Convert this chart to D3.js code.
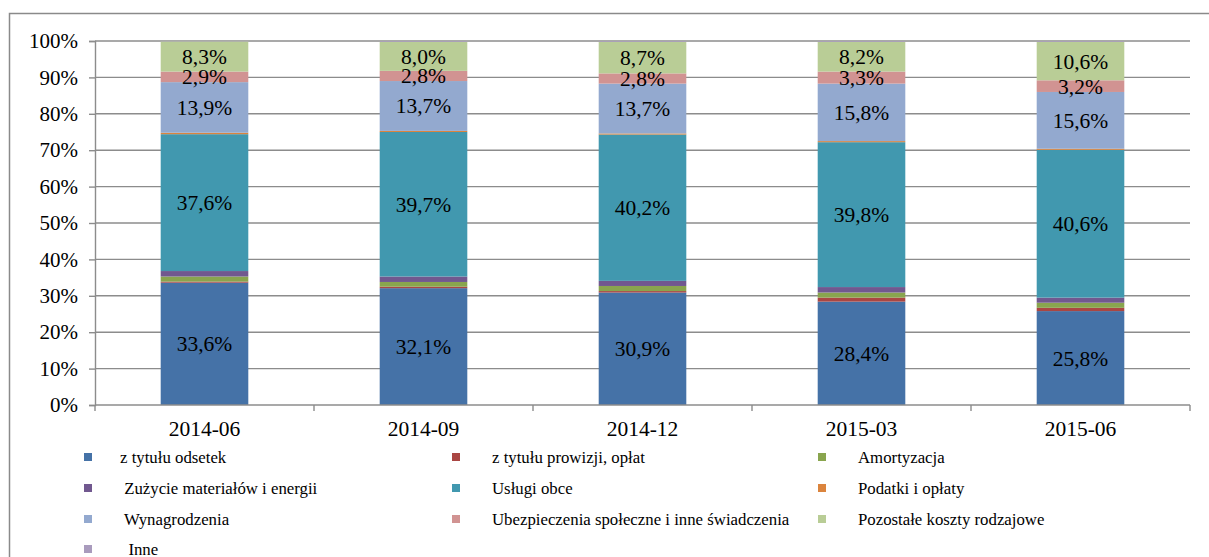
<!DOCTYPE html>
<html>
<head>
<meta charset="utf-8">
<script src="https://cdn.jsdelivr.net/npm/d3@7"></script>
<style>
  html, body { margin: 0; padding: 0; background: #fff; }
  svg { display: block; }
  svg text { font-family: "Liberation Serif", "Times New Roman", Tinos, "DejaVu Serif", serif; }
</style>
</head>
<body>
<script>
// Struktura kosztów (udział procentowy) w kolejnych okresach
const categories = ["2014-06", "2014-09", "2014-12", "2015-03", "2015-06"];

const seriesNames = [
  "z tytułu odsetek",
  "z tytułu prowizji, opłat",
  "Amortyzacja",
  " Zużycie materiałów i energii",
  "Usługi obce",
  "Podatki i opłaty",
  " Wynagrodzenia",
  "Ubezpieczenia społeczne i inne świadczenia",
  "Pozostałe koszty rodzajowe",
  "  Inne"
];

const odsetek      = [33.6, 32.1, 30.9, 28.4, 25.8];
const prowizje     = [0.3, 0.4, 0.4, 1.1, 0.9];
const amortyzacja  = [1.4, 1.3, 1.4, 1.4, 1.4];
const zuzycie      = [1.5, 1.5, 1.4, 1.5, 1.4];
const uslugiObce   = [37.6, 39.7, 40.2, 39.8, 40.6];
const podatki      = [0.4, 0.3, 0.3, 0.3, 0.3];
const wynagrodzenia= [13.9, 13.7, 13.7, 15.8, 15.6];
const ubezpieczenia= [2.9, 2.8, 2.8, 3.3, 3.2];
const pozostale    = [8.3, 8.0, 8.7, 8.2, 10.6];
const inne         = [0.1, 0.2, 0.2, 0.2, 0.2];

const seriesValues = [odsetek, prowizje, amortyzacja, zuzycie, uslugiObce,
                      podatki, wynagrodzenia, ubezpieczenia, pozostale, inne];

// series that carry a value label inside the bar
const labelled = [0, 4, 6, 7, 8];

const yTicks = [0, 10, 20, 30, 40, 50, 60, 70, 80, 90, 100];

const colors = ["#4572A7", "#AA4643", "#89A54E", "#71588F", "#4198AF",
                "#DB843D", "#93A9CF", "#D19392", "#B9CD96", "#A99BBD"];

const W = 1209, H = 557;
const plot = { left: 95, right: 1190, top: 41, bottom: 405 };

const svg = d3.select("body").append("svg")
  .attr("width", W).attr("height", H);

// chart frame
svg.append("rect")
  .attr("x", 9.5).attr("y", 13.5)
  .attr("width", W + 20).attr("height", H + 20)
  .attr("fill", "#fff").attr("stroke", "#8a8a8a").attr("stroke-width", 1.5);

const x = d3.scaleBand().domain(categories)
  .range([plot.left, plot.right]).paddingInner(0.6).paddingOuter(0.3);
const xOuter = d3.scaleBand().domain(categories).range([plot.left, plot.right]);
const y = d3.scaleLinear().domain([0, 100]).range([plot.bottom, plot.top]);

// horizontal gridlines
svg.append("g").selectAll("line").data(yTicks.filter(t => t > 0)).join("line")
  .attr("x1", plot.left).attr("x2", plot.right)
  .attr("y1", d => y(d)).attr("y2", d => y(d))
  .attr("stroke", "#8c8c8c").attr("stroke-width", 1.4);

// y axis
const yAxis = d3.axisLeft(y).tickValues(yTicks).tickSize(6).tickPadding(11)
  .tickFormat(d => d + "%");
const gy = svg.append("g").attr("transform", `translate(${plot.left},0)`).call(yAxis);
gy.attr("font-family", null);
gy.select(".domain").attr("stroke", "#8c8c8c").attr("stroke-width", 1.4);
gy.selectAll(".tick line").attr("stroke", "#8c8c8c").attr("stroke-width", 1.4);
gy.selectAll(".tick text").attr("font-size", 21).attr("fill", "#000");

// stacked data
const stackData = categories.map((c, i) => {
  const o = { cat: c };
  seriesNames.forEach((s, k) => { o[k] = seriesValues[k][i]; });
  return o;
});
const stack = d3.stack().keys(seriesNames.map((_, k) => k));
const layers = stack(stackData);

const gBars = svg.append("g");
layers.forEach((layer, k) => {
  gBars.append("g").attr("fill", colors[k])
    .selectAll("rect").data(layer).join("rect")
    .attr("x", d => x(d.data.cat))
    .attr("width", x.bandwidth())
    .attr("y", d => y(d[1]))
    .attr("height", d => Math.max(0, y(d[0]) - y(d[1])));
});

// x axis
const gx = svg.append("g").attr("transform", `translate(0,${plot.bottom})`);
gx.append("line").attr("x1", plot.left).attr("x2", plot.right)
  .attr("y1", 0).attr("y2", 0)
  .attr("stroke", "#8c8c8c").attr("stroke-width", 1.6);
const boundaries = categories.map(c => xOuter(c)).concat([plot.right]);
gx.selectAll("line.tk").data(boundaries).join("line").attr("class", "tk")
  .attr("x1", d => d).attr("x2", d => d).attr("y1", 0).attr("y2", 6)
  .attr("stroke", "#8c8c8c").attr("stroke-width", 1.4);
gx.selectAll("text").data(categories).join("text")
  .attr("x", d => xOuter(d) + xOuter.bandwidth() / 2)
  .attr("y", 31)
  .attr("text-anchor", "middle")
  .attr("font-size", 21.5).attr("fill", "#000")
  .text(d => d);

// value labels
const fmt = v => v.toFixed(1).replace(".", ",") + "%";
const gLab = svg.append("g");
labelled.forEach(k => {
  gLab.selectAll(null).data(layers[k]).join("text")
    .attr("x", d => x(d.data.cat) + x.bandwidth() / 2)
    .attr("y", d => (y(d[0]) + y(d[1])) / 2)
    .attr("dy", "0.35em")
    .attr("text-anchor", "middle")
    .attr("font-size", 21.5).attr("fill", "#000")
    .text(d => fmt(d[1] - d[0]));
});

// legend
const legCols = [84, 452, 818];
const legTextX = [120, 492, 858];
const legRows = [457, 488, 519, 549];
const gLeg = svg.append("g");
seriesNames.forEach((name, k) => {
  const col = k % 3, row = Math.floor(k / 3);
  gLeg.append("rect")
    .attr("x", legCols[col]).attr("y", legRows[row] - 4)
    .attr("width", 8).attr("height", 8)
    .attr("fill", colors[k]);
  gLeg.append("text")
    .attr("x", legTextX[col]).attr("y", legRows[row])
    .attr("dy", "0.35em")
    .attr("font-size", 16.8).attr("fill", "#000")
    .style("white-space", "pre")
    .text(name);
});
</script>
</body>
</html>
